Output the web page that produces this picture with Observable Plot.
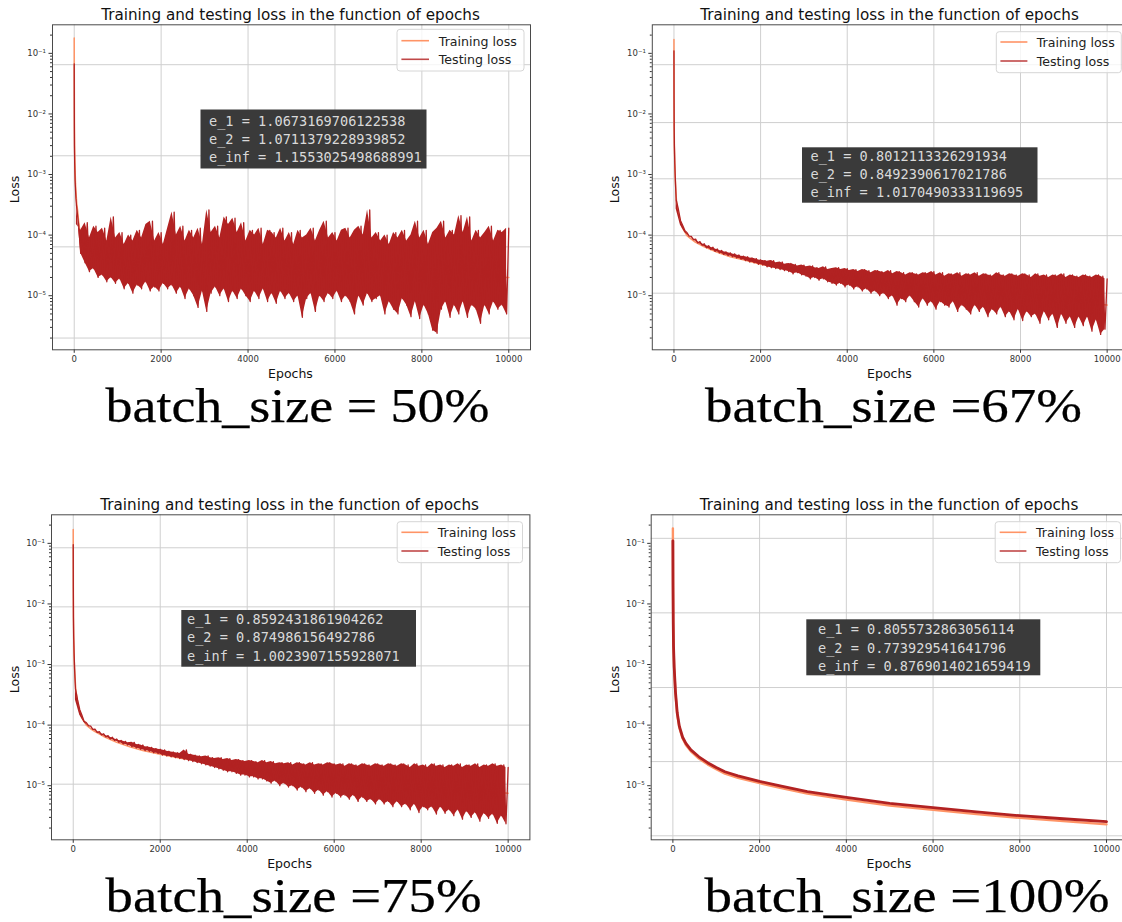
<!DOCTYPE html>
<html><head><meta charset="utf-8">
<script src="https://cdn.jsdelivr.net/npm/d3@7"></script>
<script src="https://cdn.jsdelivr.net/npm/@observablehq/plot@0.6"></script>
<style>
body{margin:0;background:#fff;overflow:hidden}
#root{position:relative;width:1122px;height:922px;overflow:hidden;background:#fff}
.panel{position:absolute;width:560px;height:380px}
.panel svg{max-width:none !important}
</style></head>
<body><div id="root"></div>
<script>
// ---------- shared axis data ----------
const xTicks = [0, 2000, 4000, 6000, 8000, 10000];
const yMajor = [1e-5, 1e-4, 1e-3, 1e-2, 1e-1];
const yMajorLabels = ["10⁻⁵", "10⁻⁴", "10⁻³", "10⁻²", "10⁻¹"];
const minorDecades = [1e-6, 1e-5, 1e-4, 1e-3, 1e-2, 1e-1];
const minorMultipliers = [2, 3, 4, 5, 6, 7, 8, 9];
const titleText = "Training and testing loss in the function of epochs";
const seriesNames = ["Training loss", "Testing loss"];
const captions = ["batch_size = 50%", "batch_size =67%", "batch_size =75%", "batch_size =100%"];
const annotations = [
  ["e_1 = 1.0673169706122538", "e_2 = 1.0711379228939852", "e_inf = 1.1553025498688991"],
  ["e_1 = 0.8012113326291934", "e_2 = 0.8492390617021786", "e_inf = 1.0170490333119695"],
  ["e_1 = 0.8592431861904262", "e_2 = 0.874986156492786", "e_inf = 1.0023907155928071"],
  ["e_1 = 0.8055732863056114", "e_2 = 0.773929541641796", "e_inf = 0.8769014021659419"]
];

// epochs of the samples
const earlyEpochs = [0, 2, 5, 10, 20, 30, 40];
const loEpochs = d3.range(50, 10000, 100);     // bin minima (100-epoch bins)
const hiEpochs = d3.range(100, 10001, 100);    // bin maxima
const trainEpochs = [0, 2, 5, 10, 20, 30, 45, 60, 80, 100, 150, 200, 300, 400, 500, 700, 1000, 1300, 1600, 2000, 2500, 3000, 4000, 5000, 6000, 7000, 8000, 9000, 10000];

// ---------- panel 1 (batch 50%) ----------
const p1TrainLoss = [0.18, 0.03, 6e-3, 2.5e-3, 1.2e-3, 7e-4, 4.5e-4, 3.2e-4, 2.5e-4, 1.7e-4,
  9e-5, 6e-5, 5e-5, 4.5e-5, 4e-5, 3.8e-5, 3.5e-5, 3.3e-5, 3.2e-5, 3e-5,
  3e-5, 2.8e-5, 2.6e-5, 2.5e-5, 2.4e-5, 2.3e-5, 2.2e-5, 2.1e-5, 2e-5];
const p1TestEarly = [0.067, 0.012, 3e-3, 1.6e-3, 8e-4, 5.5e-4, 4e-4];
const p1TestLo = [3.2e-4,
  5e-5, 3.5e-5, 2.5e-5, 2.8e-5, 2e-5, 2.2e-5, 1.7e-5, 2e-5, 1.6e-5, 1.9e-5,
  1.3e-5, 1.6e-5, 1.1e-5, 1.5e-5, 1.3e-5, 1.7e-5, 1.2e-5, 1.4e-5, 1.2e-5, 1.6e-5,
  1.3e-5, 1.5e-5, 1.1e-5, 1.4e-5, 9e-6, 1.3e-5, 1.0e-5, 6.4e-6, 1.2e-5, 5.5e-6,
  1.1e-5, 1.4e-5, 1.0e-5, 1.3e-5, 8e-6, 1.2e-5, 9e-6, 1.3e-5, 1.0e-5, 8e-6,
  1.2e-5, 9e-6, 1.3e-5, 8e-6, 1.1e-5, 7.5e-6, 1.2e-5, 9e-6, 1.1e-5, 8e-6,
  1.0e-5, 4.4e-6, 9e-6, 1.1e-5, 5.5e-6, 1.0e-5, 8e-6, 1.1e-5, 9e-6, 1.2e-5,
  8e-6, 1.0e-5, 8e-6, 5e-6, 1.0e-5, 7e-6, 1.1e-5, 8e-6, 9e-6, 1.0e-5,
  5e-6, 8e-6, 6e-6, 5e-6, 9e-6, 7e-6, 4.5e-6, 8e-6, 4.2e-6, 7e-6,
  5e-6, 2.7e-6, 2.4e-6, 6e-6, 8e-6, 4.4e-6, 7e-6, 5e-6, 8e-6, 4.4e-6,
  7e-6, 6e-6, 3.5e-6, 7e-6, 5e-6, 8e-6, 6e-6, 7e-6, 5e-6];
const p1TestHi = [
  1.5e-4, 1.2e-4, 1.6e-4, 9e-5, 1.4e-4, 1.1e-4, 1.3e-4, 8e-5, 2e-4, 9e-5,
  1.1e-4, 7e-5, 1.0e-4, 8e-5, 1.2e-4, 9e-5, 1.5e-4, 1.7e-4, 8e-5, 1.1e-4,
  7e-5, 1.3e-4, 2.4e-4, 1.0e-4, 1.4e-4, 8e-5, 1.2e-4, 9e-5, 1.3e-4, 7e-5,
  2.6e-4, 1.1e-4, 1.4e-4, 9e-5, 2e-4, 1.5e-4, 1.9e-4, 1.1e-4, 1.6e-4, 8e-5,
  1.2e-4, 1.0e-4, 1.3e-4, 7e-5, 1.2e-4, 1.1e-4, 9e-5, 1.3e-4, 8e-5, 1.1e-4,
  7e-5, 1.2e-4, 9e-5, 1.0e-4, 1.3e-4, 8e-5, 1.2e-4, 1.7e-4, 9e-5, 1.1e-4,
  8e-5, 1.2e-4, 1.3e-4, 9e-5, 1.2e-4, 1.4e-4, 1.0e-4, 2.6e-4, 9e-5, 1.1e-4,
  8e-5, 1.0e-4, 7e-5, 1.1e-4, 9e-5, 1.2e-4, 8e-5, 1.0e-4, 1.7e-4, 9e-5,
  1.2e-4, 7e-5, 1.1e-4, 1.3e-4, 1.7e-4, 9e-5, 1.2e-4, 1.0e-4, 2.1e-4, 1.1e-4,
  2.0e-4, 8e-5, 1.2e-4, 9e-5, 1.1e-4, 1.4e-4, 8e-5, 1.2e-4, 1.1e-4, 1.3e-4];
const p1Grid = [0.065, 0.00204, 6.4e-5, 2.0e-6];

// ---------- panel 2 (batch 67%) ----------
const p2TrainLoss = [0.17, 0.02, 6e-3, 2.8e-3, 1.4e-3, 8.5e-4, 5.2e-4, 3.5e-4, 2.8e-4, 2.4e-4,
  1.65e-4, 1.3e-4, 9.8e-5, 8.6e-5, 7.6e-5, 6.4e-5, 5.2e-5, 4.4e-5, 3.9e-5, 3.3e-5,
  2.8e-5, 2.4e-5, 1.8e-5, 1.4e-5, 1.2e-5, 1.05e-5, 9e-6, 8e-6, 7e-6];
const p2TestEarly = [0.11, 0.018, 6e-3, 3e-3, 1.5e-3, 9e-4, 6e-4];
const p2TestLo = [
  3.9e-4, 1.75e-4, 1.2e-4, 9.6e-5, 8.4e-5, 7.4e-5, 6.8e-5, 6.2e-5, 5.8e-5, 5.4e-5,
  5.1e-5, 4.8e-5, 4.6e-5, 4.4e-5, 4.2e-5, 4.0e-5, 3.8e-5, 3.6e-5, 3.5e-5, 3.3e-5,
  3.2e-5, 3.0e-5, 2.9e-5, 2.8e-5, 2.7e-5, 2.6e-5, 2.5e-5, 2.3e-5, 2.4e-5, 2.2e-5,
  2.1e-5, 1.9e-5, 2.0e-5, 1.8e-5, 1.9e-5, 1.7e-5, 1.6e-5, 1.5e-5, 1.6e-5, 1.4e-5,
  1.5e-5, 1.3e-5, 1.4e-5, 1.2e-5, 1.3e-5, 1.1e-5, 1.2e-5, 1.0e-5, 1.1e-5, 9e-6,
  1.0e-5, 7e-6, 9e-6, 8e-6, 1.0e-5, 8e-6, 6.5e-6, 9e-6, 7e-6, 8e-6,
  6e-6, 8e-6, 7e-6, 6.5e-6, 8e-6, 5.5e-6, 7e-6, 6e-6, 5e-6, 7e-6,
  5.5e-6, 6.5e-6, 4.5e-6, 6e-6, 5e-6, 6.5e-6, 4.5e-6, 5.5e-6, 4e-6, 6e-6,
  3.9e-6, 5.5e-6, 4.5e-6, 5e-6, 3.5e-6, 5.5e-6, 4e-6, 5e-6, 3e-6, 5e-6,
  3.5e-6, 4.5e-6, 3e-6, 4.5e-6, 3.2e-6, 4.5e-6, 2.6e-6, 4e-6, 2.3e-6, 2.8e-6];
const p2TestHi = [
  2.7e-4, 1.45e-4, 1.1e-4, 9.5e-5, 8.6e-5, 7.8e-5, 7.2e-5, 6.7e-5, 6.3e-5, 5.9e-5,
  5.6e-5, 5.3e-5, 5.1e-5, 4.9e-5, 4.7e-5, 4.5e-5, 4.4e-5, 4.2e-5, 4.1e-5, 3.9e-5,
  3.8e-5, 3.7e-5, 3.8e-5, 3.5e-5, 3.6e-5, 3.3e-5, 3.4e-5, 3.3e-5, 3.1e-5, 3.2e-5,
  3.0e-5, 3.1e-5, 2.9e-5, 2.8e-5, 3.0e-5, 2.7e-5, 2.8e-5, 2.9e-5, 2.7e-5, 2.8e-5,
  2.6e-5, 2.7e-5, 2.5e-5, 2.7e-5, 2.6e-5, 2.4e-5, 2.6e-5, 2.5e-5, 2.4e-5, 2.6e-5,
  2.3e-5, 2.5e-5, 2.4e-5, 2.2e-5, 2.4e-5, 2.3e-5, 2.2e-5, 2.4e-5, 2.3e-5, 2.5e-5,
  2.2e-5, 2.4e-5, 2.1e-5, 2.3e-5, 2.2e-5, 2.4e-5, 2.1e-5, 2.3e-5, 2.2e-5, 2.4e-5,
  2.1e-5, 2.3e-5, 2.2e-5, 2.1e-5, 2.4e-5, 2.2e-5, 2.1e-5, 2.3e-5, 2.2e-5, 2.1e-5,
  2.3e-5, 2.2e-5, 2.0e-5, 2.3e-5, 2.1e-5, 2.2e-5, 2.0e-5, 2.2e-5, 2.1e-5, 2.3e-5,
  2.0e-5, 2.2e-5, 2.1e-5, 2.0e-5, 2.2e-5, 2.1e-5, 2.0e-5, 2.2e-5, 2.1e-5, 1.9e-5];
const p2Grid = [0.065, 0.0072, 8.5e-4, 9.8e-5, 1.1e-5];

// ---------- panel 3 (batch 75%) ----------
const p3TrainLoss = [0.17, 0.02, 6e-3, 2.8e-3, 1.4e-3, 8.5e-4, 5.5e-4, 3.8e-4, 3e-4, 2.4e-4,
  1.65e-4, 1.3e-4, 1.0e-4, 8.7e-5, 7.8e-5, 6.5e-5, 5.2e-5, 4.4e-5, 3.8e-5, 3.3e-5,
  2.8e-5, 2.5e-5, 1.9e-5, 1.5e-5, 1.3e-5, 1.1e-5, 9.5e-6, 8.5e-6, 7.5e-6];
const p3TestEarly = [0.095, 0.018, 6e-3, 3e-3, 1.5e-3, 9e-4, 6e-4];
const p3TestLo = [
  4e-4, 1.8e-4, 1.15e-4, 9.8e-5, 8.5e-5, 7.6e-5, 6.9e-5, 6.4e-5, 5.9e-5, 5.6e-5,
  5.2e-5, 4.9e-5, 4.7e-5, 4.4e-5, 4.2e-5, 4.0e-5, 3.8e-5, 3.7e-5, 3.5e-5, 3.4e-5,
  3.2e-5, 3.1e-5, 3.0e-5, 2.9e-5, 2.8e-5, 2.7e-5, 2.6e-5, 2.5e-5, 2.4e-5, 2.3e-5,
  2.2e-5, 2.1e-5, 2.0e-5, 1.9e-5, 1.8e-5, 1.7e-5, 1.7e-5, 1.6e-5, 1.5e-5, 1.5e-5,
  1.4e-5, 1.4e-5, 1.3e-5, 1.3e-5, 1.2e-5, 1.1e-5, 1.2e-5, 1.0e-5, 1.1e-5, 9.5e-6,
  1.0e-5, 8.5e-6, 9.5e-6, 8e-6, 9e-6, 7.5e-6, 8.5e-6, 7e-6, 8e-6, 6.5e-6,
  7.5e-6, 6.5e-6, 7e-6, 6e-6, 7e-6, 5.5e-6, 6.5e-6, 5.5e-6, 6e-6, 5e-6,
  6e-6, 5e-6, 5.5e-6, 4.5e-6, 5.5e-6, 4.5e-6, 5e-6, 4e-6, 5e-6, 3.6e-6,
  4.5e-6, 4e-6, 4.5e-6, 3.4e-6, 4.5e-6, 3.5e-6, 4e-6, 3.2e-6, 4e-6, 2.8e-6,
  3.8e-6, 3e-6, 3.6e-6, 2.6e-6, 3.5e-6, 2.9e-6, 3.4e-6, 2.4e-6, 3.2e-6, 2.35e-6];
const p3TestHi = [
  2.6e-4, 1.45e-4, 1.1e-4, 9.6e-5, 8.6e-5, 7.8e-5, 7.2e-5, 6.7e-5, 6.3e-5, 5.9e-5,
  5.6e-5, 5.4e-5, 5.1e-5, 5.2e-5, 4.8e-5, 4.7e-5, 4.4e-5, 4.3e-5, 4.1e-5, 4.0e-5,
  3.9e-5, 3.7e-5, 3.6e-5, 3.5e-5, 3.4e-5, 3.9e-5, 3.3e-5, 3.2e-5, 3.1e-5, 3.0e-5,
  3.1e-5, 2.9e-5, 2.8e-5, 2.9e-5, 2.7e-5, 2.8e-5, 2.6e-5, 2.7e-5, 2.6e-5, 2.5e-5,
  2.6e-5, 2.5e-5, 2.4e-5, 2.6e-5, 2.4e-5, 2.5e-5, 2.3e-5, 2.4e-5, 2.3e-5, 2.4e-5,
  2.2e-5, 2.4e-5, 2.3e-5, 2.2e-5, 2.4e-5, 2.2e-5, 2.3e-5, 2.2e-5, 2.4e-5, 2.3e-5,
  2.2e-5, 2.3e-5, 2.1e-5, 2.3e-5, 2.2e-5, 2.1e-5, 2.3e-5, 2.2e-5, 2.1e-5, 2.3e-5,
  2.2e-5, 2.1e-5, 2.3e-5, 2.2e-5, 2.1e-5, 2.3e-5, 2.2e-5, 2.0e-5, 2.3e-5, 2.1e-5,
  2.2e-5, 2.0e-5, 2.3e-5, 2.1e-5, 2.2e-5, 2.0e-5, 2.2e-5, 2.1e-5, 2.3e-5, 2.0e-5,
  2.2e-5, 2.1e-5, 2.3e-5, 2.0e-5, 2.2e-5, 2.1e-5, 2.3e-5, 2.1e-5, 2.2e-5, 2.0e-5];
const p3Grid = [0.0845, 0.00895, 9.5e-4, 1.0e-4, 1.06e-5];

// ---------- panel 4 (batch 100%) ----------
const p4Epochs = [0, 3, 8, 15, 30, 60, 100, 150, 225, 300, 415, 600, 800, 1000, 1200, 1500, 2000, 2500, 3100, 4000, 5000, 6000, 7000, 8000, 9000, 10000];
const p4TrainLoss = [0.177, 0.025, 5e-3, 2e-3, 8.5e-4, 3.3e-4, 1.5e-4, 9e-5, 6e-5, 4.7e-5, 3.7e-5, 2.8e-5, 2.25e-5, 1.87e-5, 1.58e-5, 1.35e-5, 1.1e-5, 9.1e-6, 7.4e-6, 5.9e-6, 4.7e-6, 4e-6, 3.4e-6, 2.95e-6, 2.6e-6, 2.3e-6];
const p4TestLoss = [0.11, 0.02, 5e-3, 2e-3, 9e-4, 3.5e-4, 1.6e-4, 9.5e-5, 6.3e-5, 5e-5, 3.9e-5, 3e-5, 2.4e-5, 2e-5, 1.7e-5, 1.45e-5, 1.18e-5, 9.8e-6, 8e-6, 6.4e-6, 5.1e-6, 4.35e-6, 3.7e-6, 3.2e-6, 2.85e-6, 2.55e-6];
const p4Grid = [0.121, 0.00713, 4.17e-4, 2.5e-5, 1.49e-6];

// ---------- styling / layout ----------
const trainColor = "#ff9466";
const testColor = "#b22222";
const gridColor = "#cfcfcf";
const yDomain = [1.28e-6, 0.296];
const xDomain = [-500, 10500];

const yMinor = [];
for (const d of minorDecades) for (const m of minorMultipliers) {
  const v = m * d;
  if (v >= yDomain[0] && v <= yDomain[1]) yMinor.push(v);
}

// noisy testing curve: early samples then, per 100-epoch bin, its minimum and maximum
function zigzag(early, lo, hi) {
  const rows = earlyEpochs.map((e, i) => ({epoch: e, loss: early[i]}));
  lo.forEach((v, i) => {
    rows.push({epoch: loEpochs[i], loss: v});
    rows.push({epoch: hiEpochs[i], loss: hi[i]});
  });
  return rows;
}
function bins(lo, hi) { return lo.map((v, i) => ({epoch: loEpochs[i], lo: v, hi: hi[i]})); }
function pairs(epochs, values) { return epochs.map((e, i) => ({epoch: e, loss: values[i]})); }

const panels = [
  {left: 0, top: 0, mL: 52, mR: 30, train: pairs(trainEpochs, p1TrainLoss), test: zigzag(p1TestEarly, p1TestLo, p1TestHi), band: bins(p1TestLo, p1TestHi), grid: p1Grid, testW: 1.3},
  {left: 580, top: 0, mL: 71.8, mR: 11.7, train: pairs(trainEpochs, p2TrainLoss), test: zigzag(p2TestEarly, p2TestLo, p2TestHi), band: bins(p2TestLo, p2TestHi), grid: p2Grid, testW: 1.3},
  {left: 0, top: 490, mL: 51, mR: 30.6, train: pairs(trainEpochs, p3TrainLoss), test: zigzag(p3TestEarly, p3TestLo, p3TestHi), band: bins(p3TestLo, p3TestHi), grid: p3Grid, testW: 1.3},
  {left: 580, top: 490, mL: 70.7, mR: 12.3, train: pairs(p4Epochs, p4TrainLoss), test: pairs(p4Epochs, p4TestLoss), band: null, grid: p4Grid, testW: 2.8, trainW: 2.4}
];

const root = document.getElementById("root");

panels.forEach(p => {
  const chart = Plot.plot({
    width: 560, height: 380,
    marginLeft: p.mL, marginRight: p.mR, marginTop: 24.3, marginBottom: 30.7,
    x: {domain: xDomain},
    y: {type: "log", domain: yDomain},
    style: {fontSize: "8.5px", fontFamily: "DejaVu Sans, sans-serif", color: "#333", background: "transparent", overflow: "visible", maxWidth: "none"},
    marks: [
      Plot.ruleX(xTicks, {stroke: gridColor, strokeWidth: 1}),
      Plot.ruleY(p.grid, {stroke: gridColor, strokeWidth: 1}),
      Plot.line(p.train, {x: "epoch", y: "loss", stroke: trainColor, strokeWidth: p.trainW || 1.5}),
      p.band ? Plot.areaY(p.band, {x: "epoch", y1: "lo", y2: "hi", fill: testColor}) : null,
      Plot.line(p.test, {x: "epoch", y: "loss", stroke: testColor, strokeWidth: p.testW}),
      Plot.axisX(xTicks, {tickSize: 3.5, tickPadding: 2.5, tickFormat: d => String(d), label: null}),
      Plot.axisY(yMajor, {tickSize: 3.5, tickPadding: 3, tickFormat: d => yMajorLabels[yMajor.indexOf(d)], label: null}),
      Plot.axisY(yMinor, {tickSize: 2, tickFormat: () => "", label: null}),
      Plot.frame({stroke: "#4a4a4a", strokeWidth: 1})
    ]
  });
  chart.style.maxWidth = "none";
  const holder = document.createElement("div");
  holder.className = "panel";
  holder.style.left = p.left + "px";
  holder.style.top = p.top + "px";
  holder.appendChild(chart);
  root.appendChild(holder);
});

// ---------- overlay text, legends and annotation boxes ----------
const overlay = [
  {cx: 290.5, titleY: 19.5, lossX: 19, lossY: 189.5, epochsY: 377.5,
   cap: {x: 105.5, y: 421.7, w: 384},
   leg: {x: 397, y: 29.3, w: 127, h: 41.7, l1: 40.7, l2: 59.3, lx1: 401.4, lx2: 429, tx: 438.8, b1: 45.5, b2: 64.3},
   ann: {x: 200.5, y: 109.5, w: 226, h: 59, tx: 209, ty: 125.5}},
  {cx: 889.5, titleY: 19.5, lossX: 619, lossY: 189.5, epochsY: 377.5,
   cap: {x: 705, y: 421.7, w: 377},
   leg: {x: 996.3, y: 31.7, w: 125, h: 41, l1: 42, l2: 61, lx1: 1000.4, lx2: 1027.4, tx: 1036.7, b1: 47, b2: 66},
   ann: {x: 802, y: 147.3, w: 235.5, h: 55.4, tx: 810.5, ty: 160.8}},
  {cx: 289.6, titleY: 509.5, lossX: 19, lossY: 679.5, epochsY: 867.5,
   cap: {x: 105.5, y: 911.7, w: 376},
   leg: {x: 397.2, y: 521.7, w: 125.3, h: 41, l1: 532.3, l2: 551, lx1: 401.4, lx2: 428.4, tx: 437.7, b1: 537.3, b2: 556.3},
   ann: {x: 181.3, y: 610, w: 234.7, h: 56.7, tx: 187, ty: 624}},
  {cx: 889, titleY: 509.5, lossX: 619, lossY: 679.5, epochsY: 867.5,
   cap: {x: 704.6, y: 911.7, w: 405},
   leg: {x: 995.2, y: 521.7, w: 125.3, h: 41, l1: 532.3, l2: 551, lx1: 999.7, lx2: 1026.4, tx: 1036, b1: 537.3, b2: 556.3},
   ann: {x: 806.3, y: 619.3, w: 234, h: 56, tx: 818, ty: 634.3}}
];

const svg = d3.select(root).append("svg")
  .attr("width", 1122).attr("height", 922)
  .style("position", "absolute").style("left", 0).style("top", 0)
  .style("pointer-events", "none");

overlay.forEach((o, i) => {
  const g = svg.append("g").attr("font-family", "DejaVu Sans, sans-serif").attr("fill", "#111");
  g.append("text").attr("x", o.cx).attr("y", o.titleY).attr("text-anchor", "middle")
    .attr("font-size", 15.2).text(titleText);
  g.append("text").attr("transform", `translate(${o.lossX},${o.lossY}) rotate(-90)`)
    .attr("text-anchor", "middle").attr("font-size", 12.5).text("Loss");
  g.append("text").attr("x", o.cx).attr("y", o.epochsY).attr("text-anchor", "middle")
    .attr("font-size", 12.5).text("Epochs");
  // legend
  const L = o.leg;
  g.append("rect").attr("x", L.x).attr("y", L.y).attr("width", L.w).attr("height", L.h)
    .attr("rx", 3).attr("fill", "#fff").attr("fill-opacity", 0.8).attr("stroke", "#d6d6d6");
  g.append("line").attr("x1", L.lx1).attr("x2", L.lx2).attr("y1", L.l1).attr("y2", L.l1)
    .attr("stroke", trainColor).attr("stroke-width", 1.6);
  g.append("line").attr("x1", L.lx1).attr("x2", L.lx2).attr("y1", L.l2).attr("y2", L.l2)
    .attr("stroke", "#c04848").attr("stroke-width", 1.6);
  g.append("text").attr("x", L.tx).attr("y", L.b1).attr("font-size", 12.6).attr("fill", "#222").text(seriesNames[0]);
  g.append("text").attr("x", L.tx).attr("y", L.b2).attr("font-size", 12.6).attr("fill", "#222").text(seriesNames[1]);
  // annotation
  const A = o.ann;
  g.append("rect").attr("x", A.x).attr("y", A.y).attr("width", A.w).attr("height", A.h)
    .attr("fill", "#3a3a3a");
  annotations[i].forEach((line, k) => {
    g.append("text").attr("x", A.tx).attr("y", A.ty + k * 18.3)
      .attr("font-family", "DejaVu Sans Mono, monospace").attr("font-size", 13.6)
      .attr("fill", "#d9d9d9").style("white-space", "pre").text(line);
  });
  // caption
  const C = o.cap;
  g.append("text").attr("x", C.x).attr("y", C.y)
    .attr("font-family", "Liberation Serif, serif").attr("font-size", 48).attr("fill", "#000")
    .attr("stroke", "#000").attr("stroke-width", 0.25)
    .attr("textLength", C.w).attr("lengthAdjust", "spacingAndGlyphs").text(captions[i]);
});
</script>
</body></html>
